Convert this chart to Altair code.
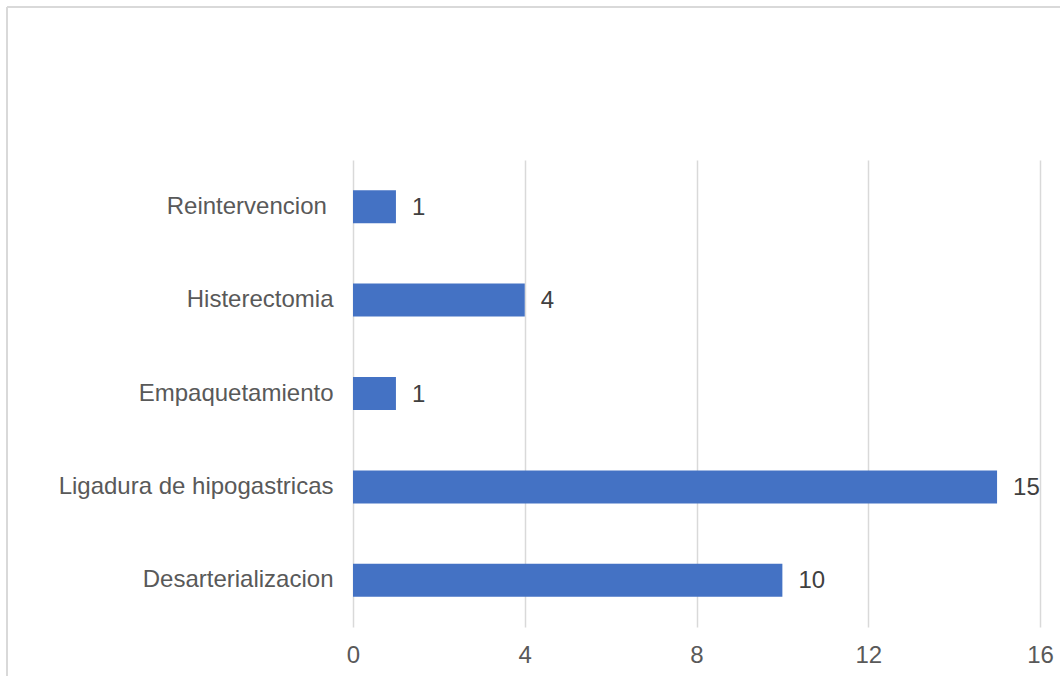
import altair as alt
import pandas as pd

categories = ["Reintervencion\u00a0\u200b", "Histerectomia", "Empaquetamiento",
              "Ligadura de hipogastricas", "Desarterializacion"]
values = [1, 4, 1, 15, 10]
x_ticks = [0, 4, 8, 12, 16]

df = pd.DataFrame({"cat": categories, "val": values})

FONT = "Liberation Sans"
GRID = "#d9d9d9"
FS = 24

x_enc = alt.X("val:Q", scale=alt.Scale(domain=[0, 16], nice=False),
              axis=alt.Axis(values=x_ticks, title=None, grid=True, gridColor=GRID,
                            gridWidth=1.5, domain=False, ticks=False, labelFlush=False,
                            labelFont=FONT, labelFontSize=FS, labelColor="#595959",
                            labelPadding=16, format="d"))
y_enc = alt.Y("cat:N", sort=None,
              scale=alt.Scale(paddingInner=0, paddingOuter=0),
              axis=alt.Axis(title=None, domain=False, ticks=False, grid=False,
                            labelFont=FONT, labelFontSize=FS, labelColor="#595959",
                            labelPadding=20, labelLimit=400))

base = alt.Chart(df)
bars = base.mark_bar(size=33, color="#4472c4").encode(x=x_enc, y=y_enc)
labels = base.mark_text(align="left", baseline="middle", dx=16, dy=1, font=FONT,
                        fontSize=FS, color="#404040").encode(
    x="val:Q", y=alt.Y("cat:N", sort=None), text="val:Q")

border_left = alt.Chart(df).mark_rule(color=GRID, strokeWidth=1.5).encode(
    x=alt.value(-346), y=alt.value(-153), y2=alt.value(600))
border_top = alt.Chart(df).mark_rule(color=GRID, strokeWidth=1.5).encode(
    x=alt.value(-346), x2=alt.value(800), y=alt.value(-153))

chart = alt.layer(bars, labels, border_left, border_top).properties(
    width=687, height=467,
    autosize=alt.AutoSizeParams(type="none"),
    padding={"left": 353, "top": 160, "right": 20, "bottom": 49},
    background="white",
).configure_view(stroke=None)

chart.save("out.html", embed_options={"renderer": "svg", "actions": False})
